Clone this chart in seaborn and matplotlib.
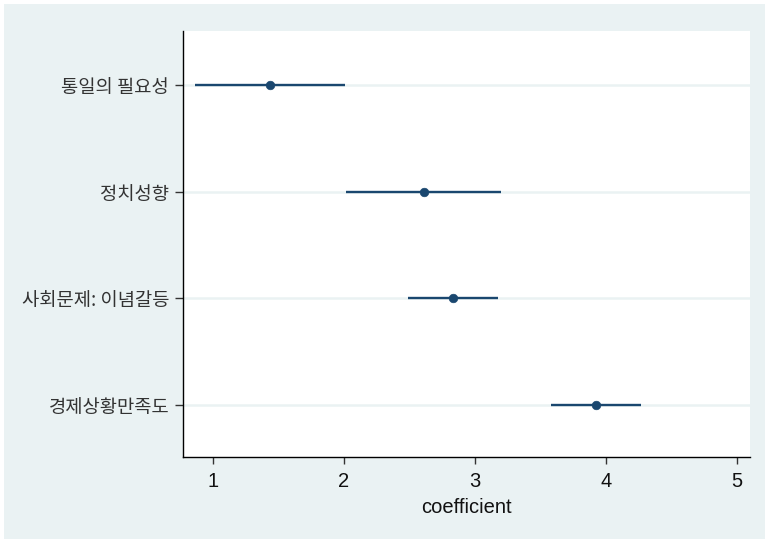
import numpy as np
import pandas as pd
import matplotlib
matplotlib.use("Agg")
import matplotlib.pyplot as plt
import seaborn as sns
from matplotlib.patches import Rectangle

# Data
categories = ["통일의 필요성", "정치성향", "사회문제: 이념갈등", "경제상황만족도"]
coef = [1.435, 2.61, 2.832, 3.924]
ci_low = [0.863, 2.015, 2.489, 3.58]
ci_high = [2.008, 3.198, 3.176, 4.267]
x_ticks = [1, 2, 3, 4, 5]

sns.set_theme(style="white")
plt.rcParams["font.family"] = ["Liberation Sans", "Noto Sans CJK KR", "DejaVu Sans"]

navy = "#1a476f"
bg = "#eaf2f3"

df = pd.DataFrame({"var": categories, "coef": coef, "lo": ci_low, "hi": ci_high})
df["pos"] = np.arange(len(df))

fig = plt.figure(figsize=(7.65, 5.42), dpi=100, facecolor="white")
fig.patches.append(Rectangle((4 / 765, 3 / 542), 761 / 765, 535 / 542,
                             transform=fig.transFigure, facecolor=bg,
                             edgecolor="none", zorder=-10))
ax = fig.add_axes([183 / 765, 1 - 457 / 542, (750 - 183) / 765, (457 - 31) / 542])
ax.set_facecolor("white")

# grid lines at categories
for p in df["pos"]:
    ax.axhline(p, color=bg, lw=1.8, zorder=0)

ax.hlines(df["pos"], df["lo"], df["hi"], color=navy, lw=1.7, zorder=2)
sns.scatterplot(data=df, x="coef", y="pos", ax=ax, color=navy, s=38,
                edgecolor=navy, linewidth=0.5, zorder=3, legend=False)

ax.set_xlim(0.771, 5.099)
ax.set_ylim(3.49, -0.506)
ax.set_xticks(x_ticks)
ax.set_xticklabels([str(t) for t in x_ticks], fontsize=14.5, color="#111111")
ax.set_yticks(df["pos"])
ax.set_yticklabels(df["var"], fontsize=13.5, color="#333333",
                   family=["Noto Sans CJK KR", "DejaVu Sans"])
ax.set_xlabel("coefficient", fontsize=14.5, color="#111111", labelpad=5)
ax.set_ylabel("")

for s in ["top", "right"]:
    ax.spines[s].set_visible(False)
for s in ["left", "bottom"]:
    ax.spines[s].set_visible(True)
    ax.spines[s].set_color("black")
    ax.spines[s].set_linewidth(1.0)

ax.tick_params(axis="y", which="major", left=True, length=6, width=1,
               color="#333333", pad=4)
ax.tick_params(axis="x", which="major", bottom=True, length=5, width=1,
               color="#333333", pad=6)
ax.grid(False)

fig.savefig("out.png", dpi=100, facecolor=fig.get_facecolor())
